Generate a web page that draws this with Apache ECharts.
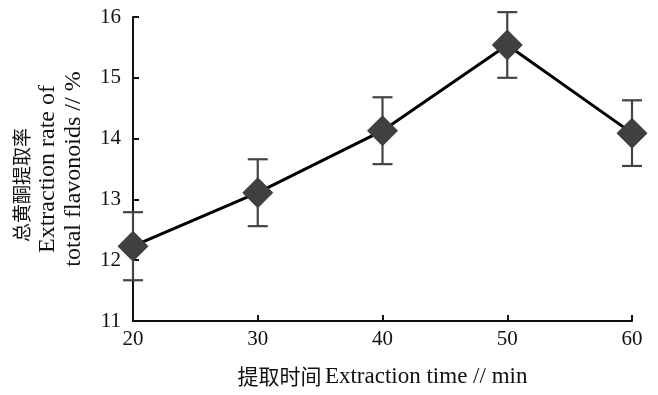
<!DOCTYPE html>
<html><head><meta charset="utf-8">
<script src="https://cdn.jsdelivr.net/npm/echarts@6/dist/echarts.min.js"></script>
<style>html,body{margin:0;padding:0;background:#fff}#c{width:658px;height:395px}</style>
</head><body><div id="c"></div>
<script>
var times = [20, 30, 40, 50, 60];
var rates = [12.23, 13.11, 14.13, 15.54, 14.09];
var errors = [0.56, 0.55, 0.55, 0.54, 0.54];
var xTicks = [20, 30, 40, 50, 60];
var yTicks = [11, 12, 13, 14, 15, 16];
var xName = ['提取时间', 'Extraction time // min'];
var yName = ['总黄酮提取率', 'Extraction rate of', 'total flavonoids // %'];

var fontNum = '"Liberation Serif", serif';
var fontCJK = '"Noto Sans CJK SC", serif';
var chart = echarts.init(document.getElementById('c'));
var lineData = times.map(function (t, i) { return [t, rates[i]]; });
var errData = times.map(function (t, i) { return [t, rates[i] - errors[i], rates[i] + errors[i]]; });

chart.setOption({
  animation: false,
  backgroundColor: '#fff',
  grid: { left: 133, right: 26, top: 17, bottom: 74, containLabel: false, outerBoundsMode: 'none' },
  xAxis: {
    type: 'value', min: xTicks[0], max: xTicks[xTicks.length - 1], interval: 10,
    name: '{c|' + xName[0] + '} {e|' + xName[1] + '}', nameLocation: 'middle', nameGap: 44,
    nameTextStyle: {
      color: '#111',
      rich: {
        c: { fontFamily: fontCJK, fontSize: 21, color: '#111' },
        e: { fontFamily: fontNum, fontSize: 23, color: '#111' }
      }
    },
    axisLine: { show: true, lineStyle: { color: '#111', width: 2 } },
    axisTick: { show: true, inside: true, length: 6, lineStyle: { color: '#111', width: 2 } },
    axisLabel: { fontFamily: fontNum, fontSize: 21, color: '#111', margin: 8 },
    splitLine: { show: false }
  },
  yAxis: {
    type: 'value', min: yTicks[0], max: yTicks[yTicks.length - 1], interval: 1,
    name: '{c|' + yName[0] + '}\n{e|' + yName[1] + '}\n{e|' + yName[2] + '}',
    nameLocation: 'middle', nameRotate: 90, nameGap: 46,
    nameTextStyle: {
      color: '#111', align: 'center',
      rich: {
        c: { fontFamily: fontCJK, fontSize: 19, color: '#111', lineHeight: 26, align: 'center', padding: [0, 32, 0, 0] },
        e: { fontFamily: fontNum, fontSize: 24, color: '#111', lineHeight: 26, align: 'center' }
      }
    },
    axisLine: { show: true, lineStyle: { color: '#111', width: 2 } },
    axisTick: { show: true, inside: true, length: 6, lineStyle: { color: '#111', width: 2 } },
    axisLabel: { fontFamily: fontNum, fontSize: 21, color: '#111', margin: 12 },
    splitLine: { show: false }
  },
  series: [
    {
      type: 'custom', z: 1,
      data: errData,
      renderItem: function (params, api) {
        var x = api.value(0);
        var lo = api.coord([x, api.value(1)]);
        var hi = api.coord([x, api.value(2)]);
        var hw = 10;
        var st = { stroke: '#444', lineWidth: 2.2 };
        return { type: 'group', children: [
          { type: 'line', shape: { x1: lo[0], y1: lo[1], x2: hi[0], y2: hi[1] }, style: st },
          { type: 'line', shape: { x1: lo[0] - hw, y1: lo[1], x2: lo[0] + hw, y2: lo[1] }, style: st },
          { type: 'line', shape: { x1: hi[0] - hw, y1: hi[1], x2: hi[0] + hw, y2: hi[1] }, style: st }
        ]};
      },
      clip: false
    },
    {
      type: 'line', z: 3,
      data: lineData,
      symbol: 'diamond', symbolSize: [31, 31],
      itemStyle: { color: '#404040', borderWidth: 0 },
      lineStyle: { color: '#000', width: 3 }
    }
  ]
});
</script></body></html>
